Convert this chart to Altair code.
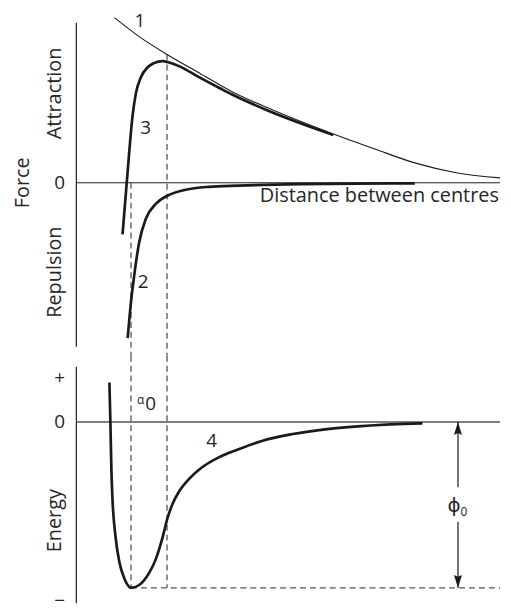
import altair as alt
import pandas as pd

# ---- data (distance in units of a0, force arbitrary, energy in units of phi0) ----
c1_r = [0.695, 1.15, 1.659, 2.24, 2.84, 3.51, 4.70, 5.46, 6.19, 6.97, 7.75]
c1_f = [5.73, 5.07, 4.45, 3.82, 3.17, 2.59, 1.69, 1.17, 0.69, 0.34, 0.17]

c3_r = [0.845, 0.932, 1.028, 1.09, 1.181, 1.301, 1.42, 1.575, 1.70, 1.908, 2.21, 2.635, 2.85, 3.51, 4.70]
c3_f = [-1.79, 0.24, 2.31, 3.11, 3.66, 4.00, 4.15, 4.22, 4.17, 4.02, 3.70, 3.27, 3.06, 2.50, 1.66]

c2_r = [0.939, 1.0, 1.059, 1.15, 1.272, 1.454, 1.664, 2.0, 2.423, 2.968, 4.06, 5.15, 6.19]
c2_f = [-5.39, -4.13, -3.21, -2.06, -1.25, -0.73, -0.45, -0.24, -0.14, -0.10, -0.05, -0.03, -0.02]

e_r = [0.605, 0.623, 0.641, 0.664, 0.714, 0.786, 0.877, 1.0, 1.15, 1.332, 1.45, 1.574, 1.665,
       1.755, 1.877, 2.059, 2.301, 2.605, 2.968, 3.392, 3.932, 4.55, 5.15, 5.75, 6.332]
e_v = [0.238, 0.0, -0.284, -0.483, -0.683, -0.843, -0.943, -1.0, -0.983, -0.91, -0.83, -0.70, -0.583,
       -0.497, -0.420, -0.344, -0.273, -0.213, -0.164, -0.114, -0.074, -0.044, -0.026, -0.014, -0.008]

a0 = 1.0          # equilibrium distance
r_max = 1.659     # distance of maximum attraction
phi0 = 1.0        # depth of the energy well

X_DOM = [-1.25, 7.75]
F_DOM = [-6.0, 6.0]
E_DOM = [-1.093, 0.4]

TXT = "#262626"
FONT = "Open Sans"

W = 495
H_TOP = 348
H_BOT = 249


def xs(field="r"):
    return alt.X(f"{field}:Q", scale=alt.Scale(domain=X_DOM, nice=False, zero=False), axis=None)


def ys(field, dom):
    return alt.Y(f"{field}:Q", scale=alt.Scale(domain=dom, nice=False, zero=False), axis=None)


def line(r, v, dom, width, color="#1a1a1a"):
    df = pd.DataFrame({"r": r, "v": v})
    return alt.Chart(df).mark_line(interpolate="monotone", stroke=color, strokeWidth=width).encode(
        x=xs(), y=ys("v", dom))


def rule(rows, dom, color, width, dash=None):
    df = pd.DataFrame(rows, columns=["r", "v", "r2", "v2"])
    kw = dict(stroke=color, strokeWidth=width)
    if dash:
        kw["strokeDash"] = dash
    return alt.Chart(df).mark_rule(**kw).encode(
        x=xs(), y=ys("v", dom), x2="r2:Q", y2="v2:Q")


def texts(rows, dom, size=20, angle=0, align="center", font=FONT):
    df = pd.DataFrame(rows, columns=["r", "v", "t"])
    kw = dict(font=font, fontSize=size, color=TXT, align=align, baseline="middle")
    if angle:
        kw["angle"] = angle
    return alt.Chart(df).mark_text(**kw).encode(x=xs(), y=ys("v", dom), text="t:N")


# ---------------- top panel: force ----------------
top_layers = [
    rule([[0, 5.55, 0, -5.69]], F_DOM, "#1a1a1a", 1.2),
    rule([[0, 0, 7.75, 0]], F_DOM, "#1a1a1a", 1.0),
    rule([[a0, 0, a0, -6.0], [r_max, 4.45, r_max, -6.0]], F_DOM, "#555555", 1.3, [6, 4]),
    line(c1_r, c1_f, F_DOM, 1.1),
    line(c3_r, c3_f, F_DOM, 2.7),
    line(c2_r, c2_f, F_DOM, 2.7),
    texts([[-0.97, 0.0, "Force"]], F_DOM, angle=270),
    texts([[-0.395, 3.10, "Attraction"], [-0.395, -3.10, "Repulsion"]], F_DOM, angle=270),
    texts([[-0.305, 0.0, "0"], [1.163, 5.62, "1"], [1.27, 1.89, "3"], [1.223, -3.44, "2"]], F_DOM, size=19),
    texts([[7.73, -0.47, "Distance between centres"]], F_DOM, align="right"),
]
top = alt.layer(*top_layers).properties(width=W, height=H_TOP)

# ---------------- bottom panel: energy ----------------
up_head = "M0,0 L0.62,2 L0,1.7 L-0.62,2 Z"
down_head = "M0,0 L0.62,-2 L0,-1.7 L-0.62,-2 Z"
arrow_r = 6.981
heads = pd.DataFrame({"r": [arrow_r], "v": [0.0]})
heads2 = pd.DataFrame({"r": [arrow_r], "v": [-phi0]})

bot_layers = [
    rule([[0, 0.334, 0, -1.093]], E_DOM, "#1a1a1a", 1.2),
    rule([[0, 0, 7.75, 0]], E_DOM, "#555555", 1.5),
    rule([[a0, 0.4, a0, -phi0], [r_max, 0.4, r_max, -phi0], [a0, -phi0, 7.75, -phi0]],
         E_DOM, "#555555", 1.3, [6, 4]),
    line(e_r, e_v, E_DOM, 2.7),
    rule([[arrow_r, 0, arrow_r, -0.393], [arrow_r, -0.602, arrow_r, -phi0]], E_DOM, "#1a1a1a", 1.2),
    alt.Chart(heads).mark_point(shape=up_head, size=169, filled=True, color="#1a1a1a", opacity=1).encode(
        x=xs(), y=ys("v", E_DOM)),
    alt.Chart(heads2).mark_point(shape=down_head, size=169, filled=True, color="#1a1a1a", opacity=1).encode(
        x=xs(), y=ys("v", E_DOM)),
    texts([[-0.395, -0.595, "Energy"]], E_DOM, angle=270),
    texts([[-0.305, 0.266, "+"], [-0.305, 0.0, "0"], [-0.305, -1.08, "\u2212"],
           [1.359, 0.109, "0"], [2.477, -0.116, "4"]], E_DOM, size=19),
    texts([[6.908, -0.505, "\u03d5"]], E_DOM, size=20, font="DejaVu Sans"),
    texts([[1.177, 0.130, "\u03b1"], [7.09, -0.545, "0"]], E_DOM, size=12),
]
bottom = alt.layer(*bot_layers).properties(width=W, height=H_BOT)

chart = alt.vconcat(top, bottom, spacing=0, bounds="flush").properties(
    padding=0, background="white"
).configure_view(stroke=None)

chart.save("out.html", embed_options={"renderer": "svg", "actions": False})
